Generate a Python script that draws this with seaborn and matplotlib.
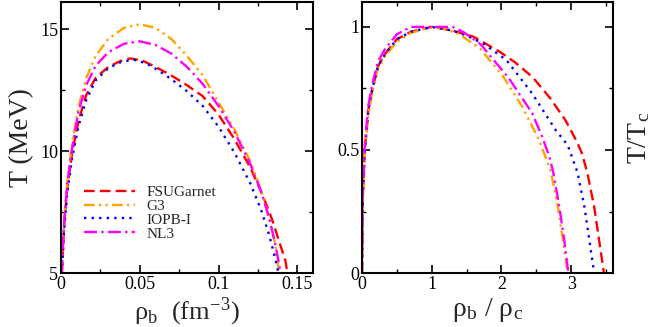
import matplotlib
matplotlib.use("Agg")
import matplotlib.pyplot as plt
from matplotlib.ticker import MultipleLocator
import seaborn as sns

# left panel: T (MeV) vs rho_b (fm^-3)
rho_fsu = [0.0005, 0.002, 0.004, 0.007, 0.011, 0.016, 0.022, 0.03, 0.038, 0.044, 0.052, 0.06,
           0.07, 0.08, 0.09, 0.1, 0.11, 0.12, 0.128, 0.134, 0.139, 0.1425, 0.1437]
T_fsu = [5.0, 7.0, 8.5, 9.9, 11.2, 12.3, 13.0, 13.45, 13.7, 13.8, 13.7, 13.45,
         13.1, 12.7, 12.25, 11.5, 10.5, 9.35, 8.2, 7.2, 6.2, 5.5, 5.0]

rho_g3 = [0.0005, 0.002, 0.004, 0.007, 0.011, 0.016, 0.022, 0.03, 0.04, 0.05, 0.06, 0.07,
          0.08, 0.09, 0.1, 0.11, 0.12, 0.127, 0.132, 0.136, 0.1385]
T_g3 = [5.0, 7.2, 8.8, 10.3, 11.8, 13.0, 13.9, 14.6, 15.05, 15.2, 15.05, 14.6,
        13.9, 13.1, 12.0, 10.9, 9.6, 8.4, 7.3, 6.2, 5.0]

rho_iopb = [0.0005, 0.002, 0.004, 0.007, 0.011, 0.016, 0.022, 0.03, 0.038, 0.046, 0.054, 0.062,
            0.07, 0.08, 0.09, 0.1, 0.11, 0.12, 0.127, 0.132, 0.136, 0.138]
T_iopb = [5.0, 6.8, 8.3, 9.7, 11.0, 12.1, 12.9, 13.4, 13.65, 13.75, 13.6, 13.3,
          12.95, 12.45, 11.85, 11.0, 9.95, 8.7, 7.6, 6.6, 5.6, 5.0]

rho_nl3 = [0.0005, 0.002, 0.004, 0.007, 0.011, 0.016, 0.022, 0.03, 0.04, 0.05, 0.06, 0.07,
           0.08, 0.09, 0.1, 0.11, 0.12, 0.127, 0.132, 0.136, 0.1395]
T_nl3 = [5.0, 7.1, 8.7, 10.1, 11.6, 12.7, 13.5, 14.05, 14.4, 14.5, 14.35, 14.0,
         13.45, 12.75, 11.85, 10.8, 9.5, 8.35, 7.3, 6.2, 5.0]

# right panel: T/Tc vs rho_b/rho_c
r_fsu = [0, 0.01, 0.04, 0.09, 0.15, 0.23, 0.33, 0.5, 0.7, 1.0, 1.3, 1.6, 1.97, 2.2, 2.45,
         2.7, 2.92, 3.07, 3.15, 3.23, 3.33, 3.40, 3.47]
t_fsu = [0, 0.3, 0.5, 0.66, 0.75, 0.84, 0.89, 0.95, 0.98, 1.0, 0.985, 0.96, 0.9, 0.855, 0.795,
         0.71, 0.62, 0.54, 0.49, 0.41, 0.27, 0.135, 0.0]

r_g3 = [0, 0.01, 0.04, 0.09, 0.15, 0.23, 0.33, 0.5, 0.7, 1.0, 1.2, 1.4, 1.7, 2.02, 2.3,
        2.54, 2.62, 2.71, 2.81, 2.88, 2.95]
t_g3 = [0, 0.28, 0.48, 0.64, 0.74, 0.83, 0.88, 0.94, 0.975, 1.0, 0.99, 0.97, 0.91, 0.8, 0.675,
        0.54, 0.48, 0.41, 0.27, 0.135, 0.0]

r_iopb = [0, 0.01, 0.04, 0.09, 0.15, 0.23, 0.33, 0.5, 0.7, 1.0, 1.3, 1.5, 1.75, 2.07, 2.44,
          2.78, 2.95, 3.09, 3.19, 3.26, 3.33]
t_iopb = [0, 0.3, 0.5, 0.66, 0.75, 0.84, 0.89, 0.95, 0.98, 1.0, 0.985, 0.965, 0.93, 0.866, 0.73,
          0.58, 0.52, 0.41, 0.27, 0.135, 0.0]

r_nl3 = [0, 0.01, 0.04, 0.09, 0.15, 0.23, 0.33, 0.5, 0.7, 1.0, 1.3, 1.45, 1.7, 2.11, 2.44,
         2.59, 2.69, 2.75, 2.83, 2.9, 2.96]
t_nl3 = [0, 0.32, 0.52, 0.68, 0.77, 0.86, 0.91, 0.97, 1.0, 1.0, 1.0, 0.98, 0.93, 0.79, 0.65,
         0.55, 0.47, 0.4, 0.27, 0.135, 0.0]

labels = ["FSUGarnet", "G3", "IOPB-I", "NL3"]
colors = ["#ff0000", "#ffa500", "#0000ff", "#ff00ff"]
styles = [(0, (4.5, 2.2)),
          (0, (4.5, 1.8, 1.0, 1.8, 1.0, 1.8)),
          (0, (1.0, 2.2)),
          (0, (5.5, 1.8, 1.0, 1.8))]

left_sets = [(rho_fsu, T_fsu), (rho_g3, T_g3), (rho_iopb, T_iopb), (rho_nl3, T_nl3)]
right_sets = [(r_fsu, t_fsu), (r_g3, t_g3), (r_iopb, t_iopb), (r_nl3, t_nl3)]

sns.set_theme(style="ticks")
plt.rcParams["font.family"] = ["Liberation Serif", "DejaVu Serif"]
plt.rcParams["mathtext.fontset"] = "stix"

fig = plt.figure(figsize=(6.54, 3.27), dpi=100)
ax1 = fig.add_axes([0.0933, 0.165, 0.3853, 0.828])
ax2 = fig.add_axes([0.5535, 0.165, 0.3838, 0.828])

for (x, y), lab, c, ls in zip(left_sets, labels, colors, styles):
    sns.lineplot(x=x, y=y, ax=ax1, color=c, linestyle=ls, linewidth=1.7,
                 sort=False, estimator=None, label=lab)
for (x, y), lab, c, ls in zip(right_sets, labels, colors, styles):
    sns.lineplot(x=x, y=y, ax=ax2, color=c, linestyle=ls, linewidth=1.7,
                 sort=False, estimator=None, legend=False)

ax1.set_xlim(0, 0.16)
ax1.set_ylim(5, 16.1)
ax1.set_xticks([0, 0.05, 0.1, 0.15])
ax1.set_xticklabels(["0", "0.05", "0.1", "0.15"])
ax1.set_yticks([5, 10, 15])
ax1.set_yticklabels(["5", "10", "15"])
ax1.xaxis.set_minor_locator(MultipleLocator(0.025))
ax1.yaxis.set_minor_locator(MultipleLocator(2.5))
ax1.set_xlabel("ρ$_\\mathregular{b}$  (fm$^\\mathregular{-3}$)", fontsize=19, labelpad=2)
ax1.set_ylabel("T (MeV)", fontsize=20, labelpad=4)

ax2.set_xlim(0, 3.6)
ax2.set_ylim(0, 1.1)
ax2.set_xticks([0, 1, 2, 3])
ax2.set_xticklabels(["0", "1", "2", "3"])
ax2.set_yticks([0, 0.5, 1])
ax2.set_yticklabels(["0", "0.5", "1"])
ax2.xaxis.set_minor_locator(MultipleLocator(0.5))
ax2.yaxis.set_minor_locator(MultipleLocator(0.25))
ax2.set_xlabel("ρ$_\\mathregular{b}$ / ρ$_\\mathregular{c}$", fontsize=20, labelpad=2)
ax2.set_ylabel("T/T$_\\mathregular{c}$", fontsize=20, labelpad=10)
ax2.yaxis.set_label_position("right")

for ax in (ax1, ax2):
    for sp in ax.spines.values():
        sp.set_linewidth(1.5)
        sp.set_color("black")
    ax.tick_params(which="both", direction="in", top=True, right=True,
                   colors="black", labelsize=13, pad=2)
    ax.tick_params(which="major", length=6, width=1.2)
    ax.tick_params(which="minor", length=3, width=1.0)

leg = ax1.legend(loc="upper left", bbox_to_anchor=(0.065, 0.345), frameon=False,
                 fontsize=11, handlelength=3.4, handletextpad=0.7,
                 labelspacing=0.0, borderaxespad=0)

fig.savefig("out.png", dpi=100)
